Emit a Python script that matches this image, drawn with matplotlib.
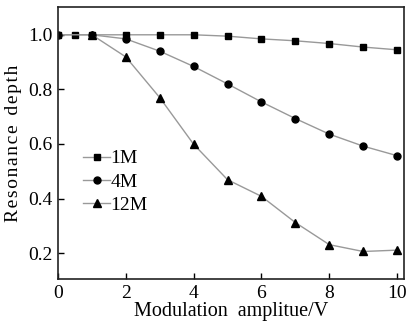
import numpy as np
import matplotlib
matplotlib.use('Agg')
from matplotlib import pyplot as plt

x_1m = [0, 0.5, 1, 2, 3, 4, 5, 6, 7, 8, 9, 10]
y_1m = [1.0, 1.0, 1.0, 1.0, 1.0, 1.0, 0.995, 0.985, 0.978, 0.968, 0.955, 0.945]

x_4m = [0, 1, 2, 3, 4, 5, 6, 7, 8, 9, 10]
y_4m = [1.0, 1.0, 0.985, 0.94, 0.884, 0.82, 0.754, 0.693, 0.636, 0.592, 0.557]

x_12m = [1, 2, 3, 4, 5, 6, 7, 8, 9, 10]
y_12m = [1.0, 0.919, 0.770, 0.599, 0.469, 0.408, 0.312, 0.231, 0.206, 0.211]

labels = ['1M', '4M', '12M']
markers = ['s', 'o', '^']
sizes = [4.5, 5.0, 6.0]

plt.rcParams['font.family'] = ['Liberation Serif', 'DejaVu Serif']


def spaced(s, sep='\u200a'):
    # loose letter spacing like the scanned figure
    return sep.join(s)


fig = plt.figure(figsize=(4.08, 3.26), dpi=100)
ax = fig.add_axes([0.142, 0.144, 0.848, 0.833])

for xs, ys, lab, m, ms in zip([x_1m, x_4m, x_12m], [y_1m, y_4m, y_12m], labels, markers, sizes):
    ax.plot(xs, ys, color='#999999', lw=1.0, marker=m, ms=ms,
            mfc='black', mec='black', label=lab)

ax.set_xlim(0, 10.2)
ax.set_ylim(0.105, 1.1)
ax.set_xticks([0, 2, 4, 6, 8, 10])
ax.set_yticks([0.2, 0.4, 0.6, 0.8, 1.0])
ax.tick_params(direction='in', length=4, width=1, labelsize=14, pad=4)
for s in ax.spines.values():
    s.set_linewidth(1.2)
    s.set_color('#222222')

ax.set_xlabel('Modulation  amplitue/V', fontsize=14.5, labelpad=0)
ax.set_ylabel(spaced('Resonance') + '  ' + spaced('depth'), fontsize=14, labelpad=4)

leg = ax.legend(loc='upper left', bbox_to_anchor=(0.05, 0.505), frameon=False,
                fontsize=14, handlelength=1.4, handletextpad=0.0, labelspacing=0.3,
                borderaxespad=0)

fig.savefig('out.png', dpi=100)
